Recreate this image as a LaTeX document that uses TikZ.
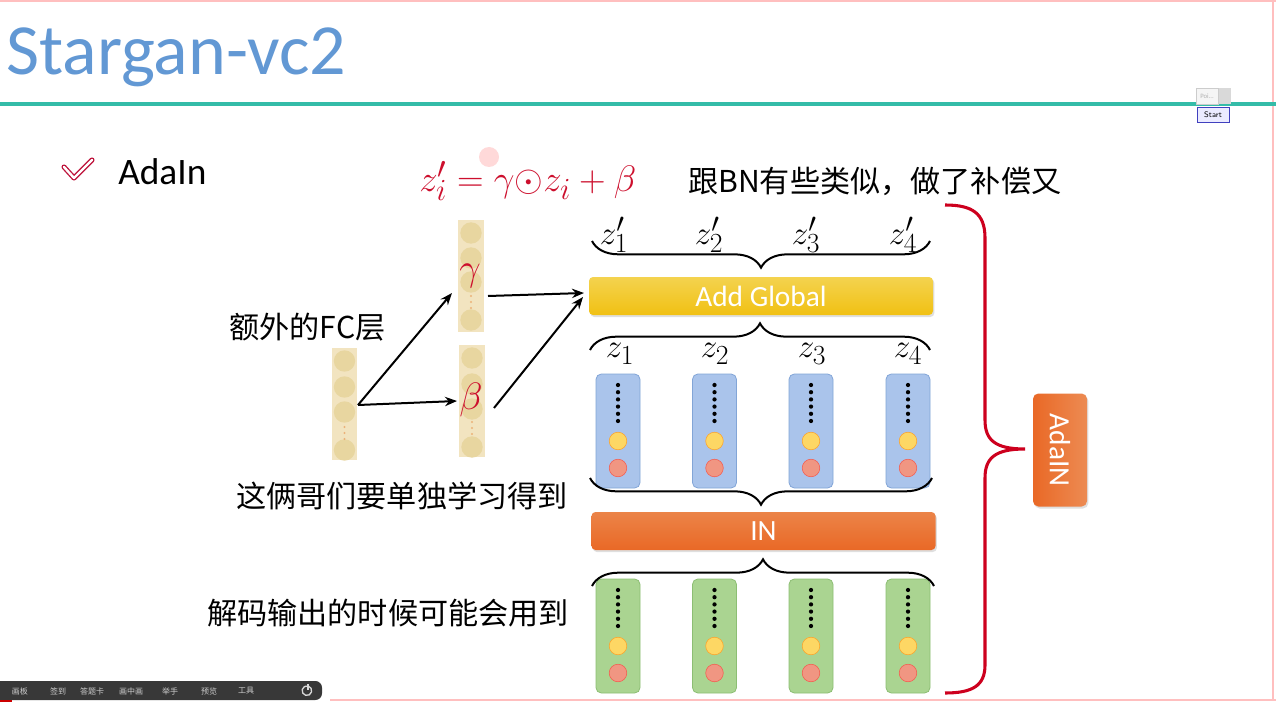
\documentclass[tikz,border=0pt]{standalone}
\usepackage{graphicx}
\usepackage{fontspec}
\setmainfont{Carlito}
\newfontfamily\cjk{Noto Sans CJK SC}
\usetikzlibrary{decorations.pathreplacing,arrows.meta,shadows}
\definecolor{titleblue}{RGB}{98,152,212}
\definecolor{teal}{RGB}{52,188,168}
\definecolor{crimsoncheck}{RGB}{190,20,60}
\definecolor{formred}{RGB}{205,15,45}
\definecolor{bracered}{RGB}{205,0,30}
\definecolor{beige}{RGB}{242,228,192}
\definecolor{beigec}{RGB}{232,214,160}
\definecolor{colblue}{RGB}{170,196,235}
\definecolor{colblueb}{RGB}{130,165,215}
\definecolor{colgreen}{RGB}{170,212,145}
\definecolor{colgreenb}{RGB}{140,190,115}
\definecolor{dotyellow}{RGB}{253,215,100}
\definecolor{dotred}{RGB}{240,150,130}
\definecolor{barorange}{RGB}{232,110,40}
\definecolor{baryellow}{RGB}{240,196,20}
\tikzset{
  cjktext/.style={font=\cjk\fontsize{22.6}{22.6}\selectfont, inner sep=0, anchor=west},
  bar/.style={rounded corners=3pt, minimum width=258pt, minimum height=28.5pt, inner sep=0,
     text=white, font=\fontsize{22}{22}\selectfont, drop shadow={opacity=0.25, shadow xshift=1pt, shadow yshift=-1.5pt}},
  colbox/.style={rounded corners=4pt, minimum width=33pt, minimum height=85.5pt, inner sep=0, line width=0.6pt},
  brc/.style={decorate, decoration={brace, amplitude=20pt}, line width=1.5pt},
  arr/.style={-{Stealth[length=9pt,width=7pt]}, line width=1.5pt},
  zlab/.style={font=\fontsize{24.88}{25}\selectfont, inner sep=0},
  tool/.style={font=\cjk\fontsize{6}{6}\selectfont, text=gray!40, inner sep=0}
}
\begin{document}
\begin{tikzpicture}[x=0.75pt,y=-0.75pt]
\useasboundingbox (0,0) rectangle (1276,720);
\fill[white] (0,0) rectangle (1276,720);
% slide borders
\draw[red!25, line width=1pt] (0,1) -- (1276,1);
\draw[red!25, line width=0.8pt] (1273,0) -- (1273,700);
\draw[red!25, line width=0.8pt] (330,700) -- (1276,700);
% title
\node[anchor=west, inner sep=0, text=titleblue, font=\fontsize{54}{54}\selectfont] (title) at (6,57) {Stargan-vc2};
\fill[teal] (0,102.5) rectangle (1276,106);
% popup
\node[draw=gray!40, fill=gray!8, minimum width=16.5pt, minimum height=12pt, inner sep=0, font=\fontsize{5}{5}\selectfont, text=gray!60] (poi) at (1207,96) {Poi...};
\node[fill=gray!30, minimum width=9pt, minimum height=12pt, inner sep=0] (poix) at (1225,96) {};
\node[draw=blue!50!gray, fill=blue!8, minimum width=24pt, minimum height=11pt, inner sep=0, font=\sffamily\fontsize{6}{6}\selectfont] (start) at (1213,114.5) {Start};
% check + AdaIn
\draw[crimsoncheck, line width=1pt, double=white, double distance=1.8pt, line join=round, line cap=round] (64,167) -- (74,178) -- (92,160);
\node[anchor=west, inner sep=0, font=\fontsize{28}{28}\selectfont] (adain) at (118,172) {AdaIn};
% formula
\fill[red!15] (489,157) circle[radius=7.5pt];
\node[anchor=west, inner sep=0, text=formred, font=\fontsize{24.88}{25}\selectfont] (formula) at (419,181) {\scalebox{1.11}{$z_i' = \gamma{\odot}z_i + \beta$}};
\node[cjktext] (note1) at (688,181) {跟BN有些类似，做了补偿又};
\node[cjktext] (note2) at (229,327) {额外的FC层};
\node[cjktext] (note3) at (236,496) {这俩哥们要单独学习得到};
\node[cjktext] (note4) at (207,613) {解码输出的时候可能会用到};
% beige columns
\fill[beige] (332,348) rectangle (357,460);
\node[inner sep=0, minimum width=18.75pt, minimum height=84pt] (fc) at (344.5,404) {};
\foreach \yy in {361,387,412,450} \fill[beigec] (344.5,\yy) circle[radius=8pt];
\foreach \yy in {427,433,439} \fill[orange!50!brown!60] (344.5,\yy) circle[radius=0.9pt];
\fill[beige] (458,220) rectangle (484,332);
\node[inner sep=0, minimum width=19.5pt, minimum height=84pt] (gcol) at (471,276) {};
\foreach \yy in {233,258,282,320} \fill[beigec] (471,\yy) circle[radius=8pt];
\foreach \yy in {296,302,308} \fill[orange!50!brown!60] (471,\yy) circle[radius=0.9pt];
\node[text=formred, font=\fontsize{24.88}{25}\selectfont, inner sep=0] (gam) at (470,276) {\scalebox{1.15}{$\gamma$}};
\fill[beige] (459,345) rectangle (485,457);
\node[inner sep=0, minimum width=19.5pt, minimum height=84pt] (bcol) at (472,401) {};
\foreach \yy in {358,384,409,447} \fill[beigec] (472,\yy) circle[radius=8pt];
\foreach \yy in {422,428,434} \fill[orange!50!brown!60] (472,\yy) circle[radius=0.9pt];
\node[text=formred, font=\fontsize{24.88}{25}\selectfont, inner sep=0] (bet) at (471,400) {\scalebox{1.15}{$\beta$}};
% bars
\node[bar, top color=baryellow!75!white, bottom color=baryellow!95!orange] (addg) at (761,296) {Add Global};
\node[bar, top color=barorange!85!white, bottom color=barorange!95!red] (inb) at (763.5,531) {IN};
% arrow coordinates
\coordinate (fcout) at (358,405);
\coordinate (gin) at (452,293);
\coordinate (bin) at (457,401);
\coordinate (gout) at (488,296);
\coordinate (bout) at (494,408);
\coordinate (ag1) at (584,293);
\coordinate (ag2) at (583,297);
\draw[arr] (fcout) -- (gin);
\draw[arr] (fcout) -- (bin);
\draw[arr] (gout) -- (ag1);
\draw[arr] (bout) -- (ag2);
% columns
\foreach \cx/\n in {618/1,714.5/2,811/3,908/4} {
  \node[colbox, fill=colblue, draw=colblueb] (b\n) at (\cx,431) {};
  \node[colbox, fill=colgreen, draw=colgreenb] (g\n) at (\cx,636) {};
  \foreach \ty in {374,579} {
    \foreach \k in {0,...,5} \fill[black] (\cx,\ty+11+\k*7.2) circle[radius=1.6pt];
    \fill[dotyellow, draw=orange!60!dotyellow, line width=0.4pt] (\cx,\ty+67) circle[radius=6.6pt];
    \fill[dotred, draw=red!40!dotred, line width=0.4pt] (\cx,\ty+94) circle[radius=6.6pt];
  }
}
% labels
\node[zlab] (zp1) at (614,235) {$z_1'$};
\node[zlab] (zp2) at (709,235) {$z_2'$};
\node[zlab] (zp3) at (806,235) {$z_3'$};
\node[zlab] (zp4) at (903,235) {$z_4'$};
\node[zlab] (z1) at (620,354) {$z_1$};
\node[zlab] (z2) at (715,354) {$z_2$};
\node[zlab] (z3) at (812,354) {$z_3$};
\node[zlab] (z4) at (908,354) {$z_4$};
% braces
\coordinate (bA1) at (930,241); \coordinate (bA2) at (592,241);
\draw[brc] (bA1) -- (bA2);
\coordinate (bB1) at (590,350); \coordinate (bB2) at (930,350);
\draw[brc] (bB1) -- (bB2);
\coordinate (bC1) at (932,478); \coordinate (bC2) at (590,478);
\draw[brc] (bC1) -- (bC2);
\coordinate (bD1) at (592,586); \coordinate (bD2) at (934,586);
\draw[brc] (bD1) -- (bD2);
% red brace
\coordinate (rtop) at (945,205);
\coordinate (rtip) at (1025,449);
\coordinate (rbot) at (945,693);
\draw[bracered, line width=2.3pt] (rtop) .. controls (972,205) and (985,213) .. (985,238) -- (985,420) .. controls (985,440) and (995,449) .. (rtip) .. controls (995,449) and (985,458) .. (985,478) -- (985,665) .. controls (985,686) and (972,693) .. (rbot);
\node[rounded corners=4pt, minimum width=40.5pt, minimum height=84.75pt, inner sep=0,
  left color=barorange!95!red, right color=barorange!80!white,
  drop shadow={opacity=0.25, shadow xshift=1pt, shadow yshift=-1.5pt}] (adabox) at (1060,450) {};
\node[rotate=-90, text=white, font=\fontsize{22}{22}\selectfont, inner sep=0] (adatxt) at (adabox.center) {AdaIN};
% toolbar
\fill[black!78, rounded corners=5pt] (-6,681) rectangle (322,700);
\node[tool] (t1) at (20,691) {画板};
\node[tool] (t2) at (58,691) {签到};
\node[tool] (t3) at (92,691) {答题卡};
\node[tool] (t4) at (131,691) {画中画};
\node[tool] (t5) at (170,691) {举手};
\node[tool] (t6) at (209,691) {预览};
\node[tool] (t7) at (246,691) {工具};
\draw[gray!30, line width=1pt] (304.5,686.5) arc[start angle=120, end angle=-240, radius=3.6pt];
\draw[gray!30, line width=1pt] (308,684) -- (308,690);
\fill[red!80!black] (0,700) rectangle (12,702);
\end{tikzpicture}
\end{document}
